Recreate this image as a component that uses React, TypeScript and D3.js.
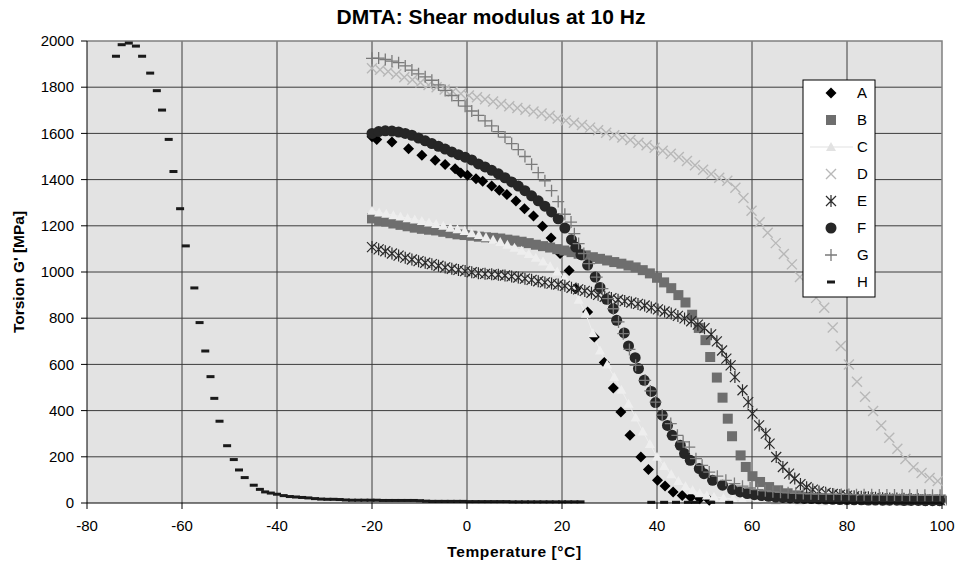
import React from "react";
import * as d3 from "d3";

// temperature [°C], G' [MPa]
const seriesA: [number, number][] = [
  [-20, 1585], [-19, 1574], [-15.8, 1563], [-12.3, 1534], [-9.5, 1505], [-6.7, 1484], [-4.6, 1465],
  [-2.5, 1447], [-1.3, 1429], [0.1, 1419], [1.9, 1404], [3.3, 1393], [5.2, 1372], [6.8, 1354],
  [8.4, 1335], [10.3, 1307], [12.1, 1274], [14, 1242], [15.9, 1198], [17.7, 1147], [19.6, 1080],
  [21.5, 1007], [22.9, 928], [25.4, 827], [26.8, 719], [28.9, 608], [30.8, 498], [32.4, 394],
  [34.3, 293], [36.6, 199], [38.2, 145], [40.1, 98], [41.7, 74], [43.4, 48], [45.3, 33], [47.1, 25],
  [49, 18], [51, 12],
];

const seriesB: [number, number][] = [
  [-20, 1232], [-18.5, 1225], [-17, 1218], [-15.5, 1210], [-14, 1204], [-12.5, 1198], [-11, 1192],
  [-9.5, 1187], [-8, 1183], [-6.5, 1180], [-5, 1174], [-3.5, 1168], [-2, 1163], [-0.5, 1160],
  [1, 1157], [2.5, 1153], [4, 1150], [5.5, 1148], [7, 1145], [8.5, 1140], [10, 1136], [11.5, 1131],
  [13, 1125], [14.5, 1118], [16, 1112], [17.5, 1106], [19, 1099], [20.5, 1093], [22, 1086],
  [23.5, 1079], [25, 1072], [26.5, 1064], [28, 1057], [29.5, 1050], [31, 1043], [32.5, 1036],
  [34, 1028], [35.5, 1020], [37, 1008], [38.5, 994], [40, 975], [41.5, 955], [43, 930], [44.5, 900],
  [46, 868], [47.4, 815], [48.8, 758], [50.2, 705], [51.2, 632], [52.6, 543], [53.8, 456],
  [54.9, 365], [55.8, 289], [57.6, 206], [58.7, 156], [60.1, 116], [61.7, 91], [63.6, 69],
  [65.5, 55], [67.5, 42], [69.5, 33], [71.5, 27], [74, 22], [77, 18], [80, 15], [84, 13], [88, 12],
  [92, 11], [96, 10], [100, 10],
];

const seriesC: [number, number][] = [
  [-20, 1265], [-18.5, 1258], [-17, 1252], [-15.5, 1246], [-14, 1240], [-12.5, 1233], [-11, 1227],
  [-9.5, 1221], [-8, 1214], [-6.5, 1208], [-5, 1200], [-3.5, 1192], [-2, 1185], [-0.5, 1177],
  [1, 1168], [2.5, 1160], [4, 1150], [5.5, 1140], [7, 1130], [8.5, 1118], [10, 1105], [11.5, 1092],
  [13, 1078], [14.5, 1062], [16, 1045], [17.5, 1025], [19, 1002], [20.5, 975], [22, 940],
  [23.5, 880], [25, 820], [26.5, 735], [28, 660], [29.5, 600], [31, 545], [32.5, 490], [34, 430],
  [35.5, 370], [37, 310], [38.5, 255], [40, 200], [41.5, 160], [43, 125], [44.5, 95], [46, 72],
  [47.5, 55], [49, 42], [50.5, 33], [52, 27], [54, 22], [56, 18], [58, 15], [61, 12], [65, 10],
  [70, 8], [75, 7], [80, 6], [85, 5], [90, 5], [95, 5], [100, 5],
];

const seriesD: [number, number][] = [
  [-20, 1882], [-18.3, 1876], [-16.6, 1868], [-14.9, 1856], [-13.2, 1843], [-11.5, 1832],
  [-9.8, 1820], [-8.1, 1810], [-6.4, 1800], [-4.7, 1790], [-3, 1781], [-1.3, 1772], [0.4, 1764],
  [2.1, 1757], [3.8, 1748], [5.5, 1738], [7.2, 1727], [8.9, 1718], [10.6, 1710], [12.3, 1702],
  [14, 1695], [15.7, 1686], [17.4, 1676], [19.1, 1665], [20.8, 1656], [22.5, 1646], [24.2, 1636],
  [25.9, 1625], [27.6, 1614], [29.3, 1603], [31, 1592], [32.7, 1582], [34.4, 1571], [36.1, 1560],
  [37.8, 1549], [39.5, 1538], [41.2, 1525], [42.9, 1512], [44.6, 1498], [46.3, 1481], [48, 1462],
  [49.7, 1443], [51.4, 1424], [53.1, 1408], [54.8, 1395], [56.5, 1365], [58.2, 1320], [59.9, 1265],
  [61.6, 1215], [63.3, 1170], [65, 1125], [66.7, 1078], [68.4, 1033], [70.1, 978], [71.8, 935],
  [73.5, 888], [75.2, 845], [77, 760], [78.7, 680], [80.4, 600], [82.1, 525], [83.8, 460],
  [85.5, 398], [87.2, 335], [88.9, 282], [90.6, 235], [92.3, 190], [94, 155], [95.7, 130],
  [97.4, 108], [99.1, 95],
];

const seriesE: [number, number][] = [
  [-20, 1108], [-18.6, 1098], [-17.2, 1090], [-15.8, 1080], [-14.4, 1071], [-13, 1062],
  [-11.6, 1054], [-10.2, 1047], [-8.8, 1040], [-7.4, 1034], [-6, 1027], [-4.6, 1020], [-3.2, 1014],
  [-1.8, 1009], [-0.4, 1004], [1, 999], [2.4, 995], [3.8, 992], [5.2, 990], [6.6, 988], [8, 985],
  [9.4, 981], [10.8, 976], [12.2, 971], [13.6, 966], [15, 960], [16.4, 955], [17.8, 950],
  [19.2, 946], [20.6, 940], [22, 932], [23.4, 925], [24.8, 918], [26.2, 910], [27.6, 901], [29, 893],
  [30.4, 887], [31.8, 880], [33.2, 874], [34.6, 868], [36, 862], [37.4, 855], [38.8, 846],
  [40.2, 838], [41.6, 829], [43, 820], [44.4, 810], [45.8, 799], [47.2, 787], [48.6, 772],
  [50, 757], [51.4, 730], [52.6, 700], [53.7, 660], [54.6, 625], [55.5, 596], [56.4, 545],
  [58, 488], [59.2, 437], [60.1, 387], [61.5, 336], [62.9, 300], [63.7, 257], [65.1, 199],
  [66.5, 156], [67.8, 127], [69, 106], [70.2, 82], [71.5, 68], [72.8, 58], [74.1, 50], [75.5, 44],
  [77, 39], [78.5, 35], [80, 32], [81.5, 29], [83, 27], [84.5, 25], [86, 23], [87.5, 21], [89, 20],
  [90.5, 19], [92, 18], [93.5, 17], [95, 16], [96.5, 15], [98, 14], [99.5, 13],
];

const seriesF: [number, number][] = [
  [-20, 1600], [-18.6, 1608], [-17.2, 1611], [-15.8, 1610], [-14.4, 1606], [-13, 1600],
  [-11.6, 1592], [-10.2, 1580], [-8.8, 1568], [-7.4, 1556], [-6, 1544], [-4.6, 1532], [-3.2, 1520],
  [-1.8, 1508], [-0.4, 1497], [1, 1485], [2.4, 1468], [3.8, 1455], [5.2, 1440], [6.6, 1425],
  [8, 1408], [9.4, 1390], [10.8, 1372], [12.2, 1352], [13.6, 1330], [15, 1308], [16.4, 1285],
  [17.8, 1260], [19.2, 1230], [20.6, 1190], [22, 1140], [22.9, 1108], [24, 1075], [25.4, 1030],
  [27, 978], [28, 933], [29.4, 882], [30.8, 841], [31.5, 791], [33.1, 736], [34, 680], [35.4, 629],
  [36.1, 582], [37.3, 531], [38.8, 483], [39.7, 435], [41.1, 380], [42.2, 336], [43.2, 293],
  [44.9, 250], [45.8, 214], [47, 185], [48.9, 149], [49.9, 127], [51.7, 98], [53.8, 77],
  [55.9, 58], [57.5, 48], [59, 41], [60.5, 36], [62, 32], [63.5, 29], [65, 26], [66.5, 24],
  [68, 22], [69.5, 21], [71, 20], [72.5, 19], [74, 18], [75.5, 17], [77, 16], [78.5, 15], [80, 15],
  [81.5, 14], [83, 14], [84.5, 13], [86, 13], [87.5, 12], [89, 12], [90.5, 12], [92, 11],
  [93.5, 11], [95, 11], [96.5, 10], [98, 10], [99.5, 10],
];

const seriesG: [number, number][] = [
  [-20, 1925], [-18.6, 1926], [-17.2, 1920], [-15.8, 1913], [-14.4, 1906], [-13, 1892],
  [-11.6, 1874], [-10.2, 1858], [-8.8, 1845], [-7.4, 1830], [-6, 1810], [-4.6, 1786], [-3.2, 1764],
  [-1.8, 1742], [-0.4, 1718], [1, 1697], [2.4, 1678], [3.8, 1654], [5.2, 1633], [6.6, 1608],
  [8, 1584], [9.4, 1556], [10.8, 1530], [12.2, 1500], [13.6, 1466], [15, 1430], [16.4, 1395],
  [17.8, 1352], [19.2, 1305], [20.6, 1250], [21.9, 1216], [22.6, 1166], [23.5, 1123], [24.6, 1080],
  [25.7, 1036], [27.3, 978], [28.5, 928], [29.7, 885], [30.8, 841], [31.9, 784], [32.9, 733],
  [34.2, 665], [35.5, 596], [37.5, 531], [38.6, 485], [39.7, 437], [41.1, 380], [42.9, 344],
  [44.3, 293], [45.5, 265], [46.8, 242], [48.2, 192], [49.5, 163], [51, 134], [52.7, 116],
  [54.5, 98], [56.3, 84], [58, 73], [59.6, 65], [61.2, 58], [62.8, 53], [64.4, 49], [66, 46],
  [67.6, 44], [69.2, 42], [70.8, 41], [72.4, 40], [74, 39], [75.6, 38], [77.2, 38], [78.8, 37],
  [80.4, 37], [82, 36], [83.6, 36], [85.2, 36], [86.8, 35], [88.4, 35], [90, 35], [91.6, 35],
  [93.2, 34], [94.8, 34], [96.4, 34], [98, 34], [99.6, 34],
];

const seriesH: [number, number][] = [
  [-73.9, 1934], [-72.7, 1984], [-71.2, 1991], [-69.7, 1978], [-68.4, 1934], [-66.7, 1861],
  [-65.3, 1785], [-64.2, 1701], [-62.8, 1574], [-61.8, 1435], [-60.4, 1274], [-59.2, 1113],
  [-57.4, 931], [-56.3, 781], [-55.1, 658], [-54, 547], [-53.2, 453], [-52.1, 354], [-50.5, 248],
  [-49.1, 188], [-48, 143], [-46.8, 110], [-44.9, 77], [-43.6, 59], [-42.5, 48], [-41.3, 43],
  [-40, 38], [-38.6, 32], [-37.3, 28], [-36, 26], [-34.7, 24], [-33.4, 22], [-32, 19], [-30.7, 17],
  [-29.4, 16], [-28.1, 16], [-26.8, 15], [-25.5, 13], [-24.2, 12], [-22.9, 12], [-21.6, 12],
  [-20.3, 12], [-19, 12], [-17.7, 11], [-16.4, 11], [-15.1, 11], [-13.8, 11], [-12.5, 11],
  [-11.2, 11], [-9.9, 10], [-8.6, 8], [-7.3, 7], [-6, 7], [-4.7, 7], [-3.4, 7], [-2.1, 7],
  [-0.8, 7], [0.5, 6], [1.8, 6], [3.1, 6], [4.4, 6], [5.7, 6], [7, 6], [8.3, 6], [9.6, 5],
  [10.9, 5], [12.2, 5], [13.5, 5], [14.8, 5], [16.1, 5], [17.4, 5], [18.7, 5], [20, 5], [21.3, 5],
  [22.6, 5], [23.9, 5], [38.8, 3], [41.5, 3], [44, 3], [46.5, 3], [48, 3], [51.4, 3], [55.2, 3],
];

const seriesNames = ["A", "B", "C", "D", "E", "F", "G", "H"];
const seriesData = [seriesA, seriesB, seriesC, seriesD, seriesE, seriesF, seriesG, seriesH];
const markerKinds = ["diamond", "square", "triangle", "cross", "star", "circle", "plus", "dash"];

const xTicks = [-80, -60, -40, -20, 0, 20, 40, 60, 80, 100];
const yTicks = [0, 200, 400, 600, 800, 1000, 1200, 1400, 1600, 1800, 2000];

const width = 959;
const height = 568;
const margin = { top: 41, right: 17, bottom: 65, left: 87 };
const font = "'Liberation Sans', Arial, sans-serif";
const cColor = "#eeeeee";

const Marker = ({ kind, x, y }: { kind: string; x: number; y: number }) => {
  switch (kind) {
    case "diamond":
      return <path d={`M${x},${y - 5.5}L${x + 5.5},${y}L${x},${y + 5.5}L${x - 5.5},${y}Z`} fill="#000" />;
    case "square":
      return <rect x={x - 5} y={y - 5} width={10} height={10} fill="#6e6e6e" />;
    case "triangle":
      return <path d={`M${x},${y - 5}L${x + 5},${y + 4}L${x - 5},${y + 4}Z`} fill={cColor} />;
    case "cross":
      return (
        <path d={`M${x - 5},${y - 5}L${x + 5},${y + 5}M${x - 5},${y + 5}L${x + 5},${y - 5}`}
          stroke="#b8b8b8" strokeWidth={1.4} fill="none" />
      );
    case "star":
      return (
        <path d={`M${x - 5},${y - 5}L${x + 5},${y + 5}M${x - 5},${y + 5}L${x + 5},${y - 5}M${x},${y - 6}L${x},${y + 6}`}
          stroke="#2b2b2b" strokeWidth={1.2} fill="none" />
      );
    case "circle":
      return <circle cx={x} cy={y} r={5.5} fill="#262626" />;
    case "plus":
      return (
        <path d={`M${x - 6},${y}L${x + 6},${y}M${x},${y - 6}L${x},${y + 6}`}
          stroke="#7a7a7a" strokeWidth={1.3} fill="none" />
      );
    default:
      return <rect x={x - 4} y={y - 1.5} width={8} height={3} fill="#1a1a1a" />;
  }
};

export default function App() {
  const x = d3.scaleLinear().domain([-80, 100]).range([margin.left, width - margin.right]);
  const y = d3.scaleLinear().domain([0, 2000]).range([height - margin.bottom, margin.top]);
  const line = d3.line<[number, number]>().x(d => x(d[0])).y(d => y(d[1]));

  const x0 = x(-80), x1 = x(100), y0 = y(0), y1 = y(2000);
  const legendX = 803, legendY = 80, legendStep = 27;

  return (
    <svg width={width} height={height} style={{ position: "absolute", left: 0, top: 0, background: "#fff" }}
      fontFamily={font}>
      <rect x={x0} y={y1} width={x1 - x0} height={y0 - y1} fill="#e3e3e3" />
      {/* grid */}
      {yTicks.filter(t => t > 0 && t < 2000).map(t => (
        <line key={"gy" + t} x1={x0} x2={x1} y1={y(t)} y2={y(t)} stroke="#3c3c3c" strokeWidth={1} />
      ))}
      {xTicks.filter(t => t > -80 && t < 100).map(t => (
        <line key={"gx" + t} x1={x(t)} x2={x(t)} y1={y1} y2={y0} stroke="#3c3c3c" strokeWidth={1} />
      ))}
      <path d={`M${x0},${y1}H${x1}V${y0}`} stroke="#808080" strokeWidth={1.5} fill="none" />

      {/* series C line */}
      <path d={line(seriesC) || ""} stroke={cColor} strokeWidth={1} fill="none" />

      {seriesData.map((data, si) => (
        <g key={"s" + si}>
          {data.map((d, i) => (
            <Marker key={i} kind={markerKinds[si]} x={x(d[0])} y={y(d[1])} />
          ))}
        </g>
      ))}

      {/* axes */}
      <line x1={x0} x2={x0} y1={y1} y2={y0} stroke="#000" />
      <line x1={x0} x2={x1} y1={y0} y2={y0} stroke="#000" />
      {yTicks.map(t => (
        <g key={"ty" + t}>
          <line x1={x0 - 6} x2={x0} y1={y(t)} y2={y(t)} stroke="#000" />
          <text x={x0 - 13} y={y(t)} dy="0.35em" textAnchor="end" fontSize={15}>{t}</text>
        </g>
      ))}
      {xTicks.map(t => (
        <g key={"tx" + t}>
          <line x1={x(t)} x2={x(t)} y1={y0} y2={y0 + 6} stroke="#000" />
          <text x={x(t)} y={y0 + 28} textAnchor="middle" fontSize={15}>{t}</text>
        </g>
      ))}

      <text x={491} y={24} textAnchor="middle" fontSize={21} fontWeight="bold">DMTA: Shear modulus at 10 Hz</text>
      <text x={(x0 + x1) / 2} y={557} textAnchor="middle" fontSize={15.5} fontWeight="bold" letterSpacing={0.6}>
        Temperature [°C]
      </text>
      <text transform={`translate(24,${(y0 + y1) / 2}) rotate(-90)`} textAnchor="middle" fontSize={15.5} fontWeight="bold">
        Torsion G' [MPa]
      </text>

      {/* legend */}
      <rect x={legendX} y={legendY} width={72} height={217} fill="#fff" stroke="#000" strokeWidth={1} />
      {seriesNames.map((n, i) => {
        const ly = legendY + 13 + i * legendStep;
        const isC = markerKinds[i] === "triangle";
        return (
          <g key={"lg" + n}>
            {isC ? (
              <g>
                <line x1={810} x2={853} y1={ly} y2={ly} stroke="#e2e2e2" strokeWidth={1.2} />
                <path d={`M831,${ly - 5}L836,${ly + 4}L826,${ly + 4}Z`} fill="#e2e2e2" />
              </g>
            ) : (
              <Marker kind={markerKinds[i]} x={831} y={ly} />
            )}
            <text x={857} y={ly} dy="0.35em" fontSize={15}>{n}</text>
          </g>
        );
      })}
    </svg>
  );
}
